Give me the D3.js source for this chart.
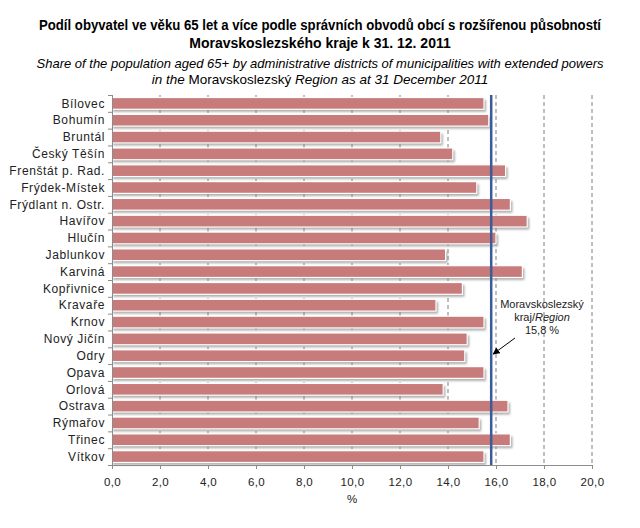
<!DOCTYPE html>
<html>
<head>
<meta charset="utf-8">
<script src="https://cdn.jsdelivr.net/npm/d3@7"></script>
<style>
  body { margin: 0; background: #fff; }
  svg { display: block; }
  text { font-family: "Liberation Sans", Arial, sans-serif; }
</style>
</head>
<body>
<svg id="chart" width="640" height="528"></svg>
<script>
const categories = ["Bílovec","Bohumín","Bruntál","Český Těšín","Frenštát p. Rad.","Frýdek-Místek","Frýdlant n. Ostr.","Havířov","Hlučín","Jablunkov","Karviná","Kopřivnice","Kravaře","Krnov","Nový Jičín","Odry","Opava","Orlová","Ostrava","Rýmařov","Třinec","Vítkov"];
const values = [15.5,15.7,13.7,14.2,16.4,15.2,16.6,17.3,16.0,13.9,17.1,14.6,13.5,15.5,14.8,14.7,15.5,13.8,16.5,15.3,16.6,15.5];
const regionValue = 15.8;
const xTicks = [0,2,4,6,8,10,12,14,16,18,20];
const titleLines = ["Podíl obyvatel ve věku 65 let a více podle správních obvodů obcí s rozšířenou působností","Moravskoslezského kraje k 31. 12. 2011"];
const subtitleLine1 = "Share of the population aged 65+ by administrative districts of municipalities with extended powers";
const subtitleLine2Parts = [["in the ", true],["Moravskoslezský", false],[" Region as at 31 December 2011", true]];

const svg = d3.select("#chart");
const pLeft = 112, pRight = 592, pTop = 95, pBottom = 465;
const x = d3.scaleLinear().domain([0,20]).range([pLeft,pRight]);
const y = d3.scaleBand().domain(categories).range([pTop,pBottom]).paddingInner(0.3).paddingOuter(0.15);

// defs
const defs = svg.append("defs");
const f = defs.append("filter").attr("id","blur").attr("x","-10%").attr("y","-50%").attr("width","120%").attr("height","200%");
f.append("feGaussianBlur").attr("stdDeviation",1.2);
const mk = defs.append("marker").attr("id","arrow").attr("viewBox","0 0 10 10").attr("refX",9).attr("refY",5)
  .attr("markerWidth",7).attr("markerHeight",7).attr("orient","auto-start-reverse");
mk.append("path").attr("d","M0,0 L10,5 L0,10 z").attr("fill","#000");

// titles
const fitText = (sel, target) => sel.each(function(){
  const w = this.getComputedTextLength();
  if (w > target) { this.setAttribute("textLength", target); this.setAttribute("lengthAdjust","spacingAndGlyphs"); }
});
titleLines.forEach((s,i)=>{
  const t = svg.append("text").attr("x",320).attr("y",[30,48][i]).attr("text-anchor","middle")
    .attr("font-weight","bold").attr("font-size",14).attr("fill","#000").text(s);
  if(i===0) fitText(t,562);
});
const st1 = svg.append("text").attr("x",320).attr("y",68).attr("text-anchor","middle")
  .attr("font-style","italic").attr("font-size",13.5).attr("fill","#000").text(subtitleLine1);
fitText(st1,567);
const st2 = svg.append("text").attr("x",320).attr("y",84).attr("text-anchor","middle")
  .attr("font-size",13.5).attr("fill","#000");
subtitleLine2Parts.forEach(([s,it])=>{
  st2.append("tspan").attr("font-style",it?"italic":"normal").text(s);
});

// gridlines
svg.append("g").selectAll("line").data(xTicks.filter(d=>d>0)).join("line")
  .attr("x1",d=>x(d)).attr("x2",d=>x(d)).attr("y1",pTop).attr("y2",pBottom)
  .attr("stroke","#7f7f7f").attr("stroke-width",1).attr("stroke-dasharray","4,3");

// bar shadows
svg.append("g").selectAll("rect").data(values).join("rect")
  .attr("x",x(0)+1).attr("y",(d,i)=>y(categories[i])+2.5)
  .attr("width",d=>x(d)-x(0)+1).attr("height",y.bandwidth())
  .attr("fill","#8a8a8a").attr("opacity",0.7).attr("filter","url(#blur)");
// bars
svg.append("g").selectAll("rect").data(values).join("rect")
  .attr("x",x(0)).attr("y",(d,i)=>y(categories[i]))
  .attr("width",d=>x(d)-x(0)).attr("height",y.bandwidth())
  .attr("fill","#c77b7a").attr("stroke","#fff").attr("stroke-width",1.2);

// y axis
const yAxis = svg.append("g");
yAxis.append("line").attr("x1",pLeft+0.5).attr("x2",pLeft+0.5).attr("y1",pTop).attr("y2",pBottom).attr("stroke","#8c8c8c");
const bounds = d3.range(categories.length+1).map(i=>pTop + i*(pBottom-pTop)/categories.length);
yAxis.selectAll("line.t").data(bounds).join("line").attr("class","t")
  .attr("x1",pLeft-4).attr("x2",pLeft).attr("y1",d=>d+0.5).attr("y2",d=>d+0.5).attr("stroke","#8c8c8c");
yAxis.selectAll("text").data(categories).join("text")
  .attr("x",pLeft-7).attr("y",d=>y(d)+y.bandwidth()/2).attr("dy","0.35em")
  .attr("text-anchor","end").attr("font-size",12).attr("letter-spacing",0.6).attr("fill","#222").text(d=>d);

// x axis
const xAxis = svg.append("g").attr("transform",`translate(0,${pBottom})`)
  .call(d3.axisBottom(x).tickValues(xTicks).tickSize(4).tickPadding(9)
    .tickFormat(d=>d3.format(".1f")(d).replace(".",",")));
xAxis.select(".domain").attr("stroke","#8c8c8c");
xAxis.selectAll(".tick line").attr("stroke","#8c8c8c");
xAxis.selectAll(".tick text").attr("font-size",11.5).attr("letter-spacing",0.4).attr("fill","#222").attr("font-family","Liberation Sans, Arial, sans-serif");
svg.append("text").attr("x",(pLeft+pRight)/2).attr("y",503).attr("text-anchor","middle")
  .attr("font-size",11.5).attr("fill","#222").text("%");

// region line
svg.append("line").attr("x1",x(regionValue)).attr("x2",x(regionValue)).attr("y1",pTop).attr("y2",pBottom)
  .attr("stroke","#3a5b9c").attr("stroke-width",2.5);

// annotation
const ann = svg.append("g").attr("font-size",11).attr("fill","#222").attr("text-anchor","middle");
ann.append("text").attr("x",542).attr("y",308).text("Moravskoslezský");
const l2 = ann.append("text").attr("x",542).attr("y",321);
l2.append("tspan").text("kraj/");
l2.append("tspan").attr("font-style","italic").text("Region");
ann.append("text").attr("x",542).attr("y",334).text(String(regionValue).replace(".",",")+" %");
svg.append("line").attr("x1",515).attr("y1",338).attr("x2",x(regionValue)+2).attr("y2",354)
  .attr("stroke","#000").attr("stroke-width",1).attr("marker-end","url(#arrow)");
</script>
</body>
</html>
